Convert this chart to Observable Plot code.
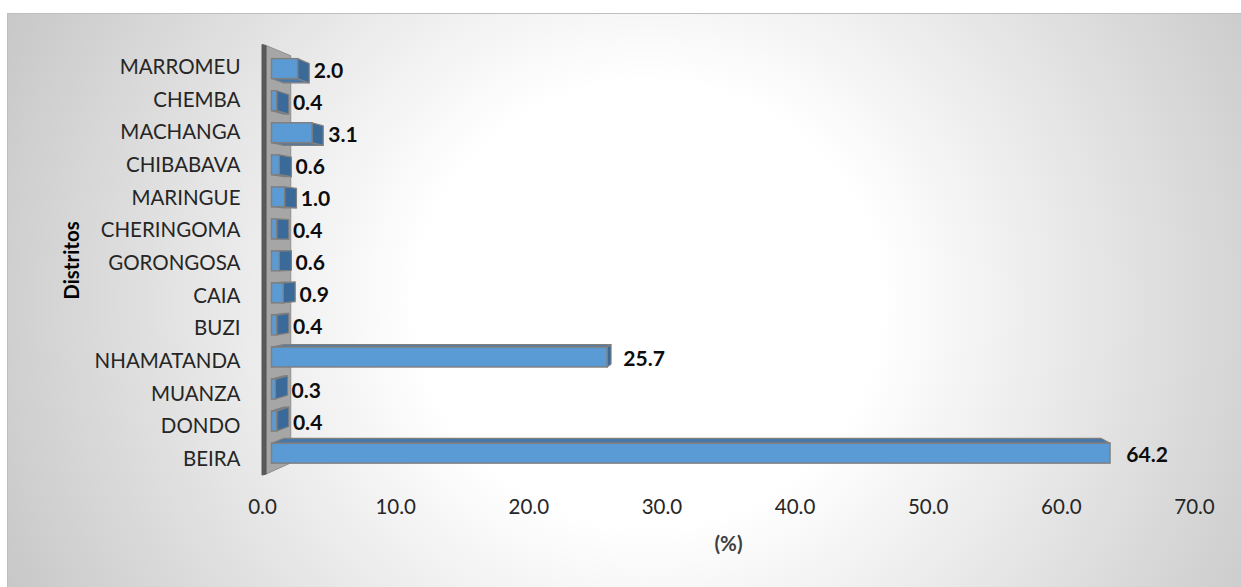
<!DOCTYPE html>
<html>
<head>
<meta charset="utf-8">
<script src="https://cdn.jsdelivr.net/npm/d3@7"></script>
<script src="https://cdn.jsdelivr.net/npm/@observablehq/plot@0.6"></script>
<style>
  html, body { margin: 0; padding: 0; background: #ffffff; }
  #bg {
    position: absolute; left: 7px; top: 13px; width: 1234px; height: 574px;
    border-left: 1px solid #bfbfbf; border-top: 1px solid #bfbfbf;
    background: radial-gradient(ellipse 860px 820px at 640px 290px, #ffffff 0%, #ffffff 27%, #b6b6b6 100%);
  }
  #chart { position: absolute; left: 0; top: 0; }
</style>
</head>
<body>
<div id="bg"></div>
<div id="chart"></div>
<script>
// ---- data ----
const districts = ["MARROMEU","CHEMBA","MACHANGA","CHIBABAVA","MARINGUE","CHERINGOMA","GORONGOSA","CAIA","BUZI","NHAMATANDA","MUANZA","DONDO","BEIRA"];
const shares = [2.0, 0.4, 3.1, 0.6, 1.0, 0.4, 0.6, 0.9, 0.4, 25.7, 0.3, 0.4, 64.2];
const xTicks = [0, 10, 20, 30, 40, 50, 60, 70];
const xTitle = "(%)";
const yTitle = "Distritos";

const rows = districts.map((d, i) => ({district: d, share: shares[i]}));

// ---- 3D look constants ----
const S = 0.981;      // front plane of the bars (slightly behind the axes)
const D = 0.025;      // bar depth
const DW = 0.05;      // wall depth
const vanishX = 37.5; // vanishing point, in x data units
const vpFrontY = 0.24, vpDepthY = 0.47; // fractions of frame height
const FONT = "Lato, 'Open Sans', sans-serif";

const svgNS = "http://www.w3.org/2000/svg";
let P = null;

function persp(scales, dims) {
  const vpx = scales.x(vanishX);
  const top = dims.marginTop, fh = dims.height - dims.marginTop - dims.marginBottom;
  const vfy = top + vpFrontY * fh, vdy = top + vpDepthY * fh;
  return {
    vpx, vfy, vdy,
    front: ([px, py]) => [vpx + (px - vpx) * S, vfy + (py - vfy) * S],
    back: ([px, py], d) => [vpx + (px - vpx) * (1 - d), vdy + (py - vdy) * (1 - d)]
  };
}

function poly(g, pts, fill, stroke, sw) {
  const p = document.createElementNS(svgNS, "polygon");
  p.setAttribute("points", pts.map(q => q.join(",")).join(" "));
  p.setAttribute("fill", fill);
  p.setAttribute("stroke", stroke);
  p.setAttribute("stroke-width", sw);
  p.setAttribute("stroke-linejoin", "round");
  g.appendChild(p);
}

function wallMark(index, scales, values, dims) {
  P = persp(scales, dims);
  const g = document.createElementNS(svgNS, "g");
  const x0 = scales.x(0);
  const y0 = dims.marginTop + 1, y1 = dims.height - dims.marginBottom - 7.5;
  const a = [x0 + 4, y0], b = [x0 + 4, y1];
  poly(g, [a, P.back(a, DW), P.back(b, DW), b], "#a6a6a6", "#8f8f8f", 1);
  poly(g, [[x0, y0 - 1], [x0 + 4, y0], [x0 + 4, y1], [x0, y1 + 1]], "#595959", "#595959", 1);
  return g;
}

function sideMark(index, scales, values, dims) {
  const Q = persp(scales, dims);
  const g = document.createElementNS(svgNS, "g");
  const bw = scales.y.bandwidth();
  rows.forEach(r => {
    const x0 = scales.x(0), x1 = scales.x(r.share);
    const ya = scales.y(r.district), yb = ya + bw;
    const A = Q.front([x0, ya]), B = Q.front([x1, ya]), C = Q.front([x1, yb]), E = Q.front([x0, yb]);
    const A2 = Q.back(A, D), B2 = Q.back(B, D), C2 = Q.back(C, D), E2 = Q.back(E, D);
    if (B2[1] < B[1]) poly(g, [A, B, B2, A2], "#4a78a6", "#7f7f7f", 1.2);
    if (C2[1] > C[1]) poly(g, [E, C, C2, E2], "#4a78a6", "#7f7f7f", 1.2);
    if (B2[0] > B[0]) poly(g, [B, C, C2, B2], "#3a6a99", "#7f7f7f", 1.2);
  });
  return g;
}

const plot = Plot.plot({
  width: 1241,
  height: 587,
  marginLeft: 262,
  marginRight: 47,
  marginTop: 44.5,
  marginBottom: 105.4,
  style: {fontFamily: FONT, fontSize: "20.5px", color: "#262626", background: "transparent", overflow: "visible"},
  x: {domain: [0, 70], ticks: xTicks, tickFormat: d => d.toFixed(1), tickSize: 0, tickPadding: 17, label: null},
  y: {domain: districts, padding: 0.38, round: false, tickSize: 0, tickPadding: 22, label: null},
  marks: [
    wallMark,
    sideMark,
    Plot.barX(rows, {x: "share", y: "district", fill: "#5b9bd5", stroke: "#7f7f7f", strokeWidth: 1.5}),
    Plot.text(rows, {x: "share", y: "district", text: d => d.share.toFixed(1), textAnchor: "start",
      dx: 16, dy: 2, fontWeight: "bold", fontSize: 21.5, fill: "#0d0d0d"}),
    Plot.text([yTitle], {text: d => d, frameAnchor: "left", textAnchor: "middle", lineAnchor: "middle",
      rotate: -90, dx: -190, dy: -3, fontWeight: "bold", fontSize: 20.5, fill: "#000000"}),
    Plot.text([xTitle], {text: d => d, frameAnchor: "bottom", textAnchor: "middle", lineAnchor: "middle",
      dy: 62.4, fontWeight: "bold", fontSize: 20.5, fill: "#404040"})
  ]
});

// put the bars and their value labels on the slightly receding front plane
if (P) {
  const t = `translate(${P.vpx * (1 - S)},${P.vfy * (1 - S)}) scale(${S})`;
  const bars = plot.querySelector('g[aria-label="bar"]');
  const texts = plot.querySelectorAll('g[aria-label="text"]');
  [bars, texts[0]].forEach(g => {
    if (!g) return;
    const old = g.getAttribute("transform") || "";
    g.setAttribute("transform", `${t} ${old}`);
  });
}

document.getElementById("chart").appendChild(plot);
</script>
</body>
</html>
